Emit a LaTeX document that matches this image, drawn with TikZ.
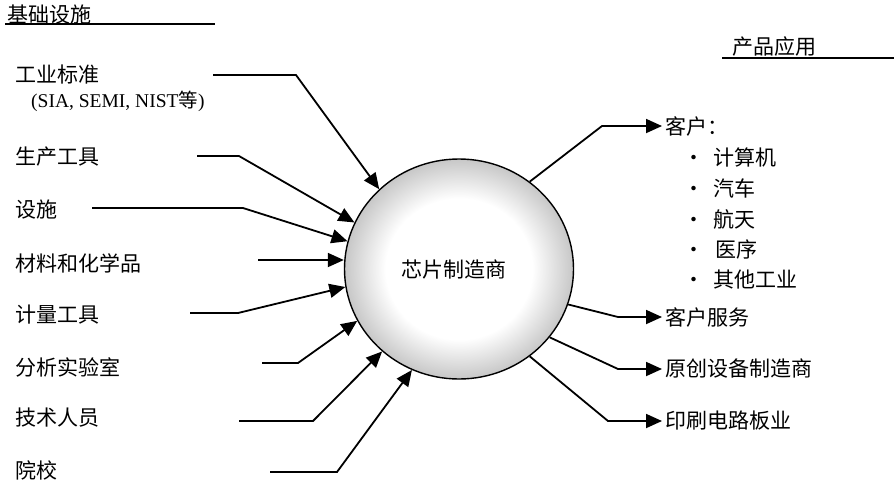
\documentclass[tikz,border=0pt]{standalone}
\usepackage{fontspec}
\setmainfont{Liberation Serif}
\newfontfamily\cjk{Noto Sans CJK SC}
\newfontfamily\lserif{Liberation Serif}
\usetikzlibrary{arrows.meta,shapes.geometric}
\pgfdeclareradialshading{ballshade}{\pgfpoint{0bp}{0bp}}{color(0bp)=(white); color(16bp)=(white); color(25bp)=(black!22); color(50bp)=(black!22)}
\tikzset{
  lbl/.style={anchor=west,inner sep=0pt,font=\cjk\fontsize{21}{24}\selectfont},
  arr/.style={line width=1.8pt,-{Triangle[length=16pt,width=14pt]}},
  rule/.style={line width=1.6pt},
  bul/.style={anchor=west,inner sep=0pt,font=\cjk\fontsize{21}{24}\selectfont}
}
\begin{document}
\begin{tikzpicture}[x=1pt,y=-1pt]
\useasboundingbox (0,0) rectangle (894,483);
% headers
\node[lbl] (h1) at (7,15) {基础设施};
\draw[rule] (5,24) -- (215,24);
\node[lbl] (h2) at (732,47) {产品应用};
\draw[rule] (722,58) -- (894,58);
% central
\node[ellipse,draw,line width=1.4pt,minimum width=229pt,minimum height=220pt,inner sep=0pt,
      shading=ballshade,
      font=\cjk\fontsize{21}{24}\selectfont] (c) at (459,269) {芯片制造商\hspace*{10pt}};
% left labels
\node[lbl] (l1) at (15,75) {工业标准};
\node[anchor=west,inner sep=0pt] (l1b) at (31,101) {\fontsize{19.5}{22}\selectfont\lserif (SIA, SEMI, NIST{\cjk 等})};
\node[lbl] (l2) at (15,157) {生产工具};
\node[lbl] (l3) at (15,210) {设施};
\node[lbl] (l4) at (15,263) {材料和化学品};
\node[lbl] (l5) at (15,315) {计量工具};
\node[lbl] (l6) at (15,367) {分析实验室};
\node[lbl] (l7) at (15,418) {技术人员};
\node[lbl] (l8) at (15,470) {院校};
% left arrows
\coordinate (s1) at (213,75);
\coordinate (s2) at (197,156);
\coordinate (s3) at (92,208);
\coordinate (s4) at (258,260);
\coordinate (s5) at (190,313);
\coordinate (s6) at (262,363);
\coordinate (s7) at (239,421);
\coordinate (s8) at (270,472);
\draw[arr] (s1) -- (296,75) -- (c.135);
\draw[arr] (s2) -- (239,156) -- (c.156);
\draw[arr] (s3) -- (243,208) -- (c.166);
\draw[arr] (s4) -- (s4 -| c.west);
\draw[arr] (s5) -- (238,313) -- (c.189);
\draw[arr] (s6) -- (298,363) -- (c.207);
\draw[arr] (s7) -- (313,421) -- (c.227);
\draw[arr] (s8) -- (337,472) -- (c.245);
% right labels
\node[lbl] (r1) at (665,126) {客户：};
\node[bul] (b1) at (683,157) {•\hspace{9pt}计算机};
\node[bul] (b2) at (683,188) {•\hspace{9pt}汽车};
\node[bul] (b3) at (683,219) {•\hspace{9pt}航天};
\node[bul] (b4) at (683,249) {•\hspace{11pt}医序};
\node[bul] (b5) at (683,280) {•\hspace{9pt}其他工业};
\node[lbl] (r2) at (665,317) {客户服务};
\node[lbl] (r3) at (665,369) {原创设备制造商};
\node[lbl] (r4) at (665,421) {印刷电路板业};
% right arrows
\draw[arr] (c.51) -- (602,126) -- ([xshift=-3pt]r1.west);
\draw[arr] (c.342) -- (618,317) -- ([xshift=-3pt]r2.west);
\draw[arr] (c.323) -- (618,369) -- ([xshift=-3pt]r3.west);
\draw[arr] (c.309) -- (608,421) -- ([xshift=-3pt]r4.west);
\end{tikzpicture}
\end{document}
